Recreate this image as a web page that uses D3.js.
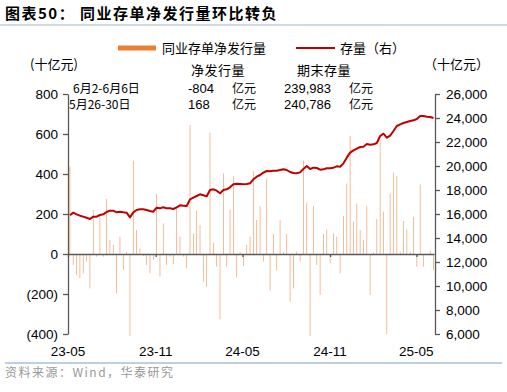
<!DOCTYPE html>
<html>
<head>
<meta charset="utf-8">
<script src="https://cdn.jsdelivr.net/npm/d3@7"></script>
<style>
  body { margin: 0; background: #fff; }
  text { font-family: "Liberation Sans", Arial, sans-serif; fill: #000; }
  .cjk { font-family: "Noto Sans CJK SC", sans-serif; }
</style>
</head>
<body>
<svg id="chart" width="507" height="392"></svg>
<script>
// weekly net issuance of NCDs (十亿元), weeks ending Friday from 2023-05-05
var netIssue = [
  437, -55, -105, -122, -97, -38, -172, 220, -13, 187,
  -13, 275, 70, 45, -197, 87, -80, 10, -410, 467,
  120, 28, -10, -55, -97, -30, 303, -113, 153, -55,
  -13, -50, 237, 87, -13, -72, 645, 103, 217, 145,
  -138, -163, 607, 57, -63, -327, 403, -63, 223, 390,
  -118, 10, -60, 45, 87, 415, 170, 240, -38, 378,
  -183, 100, -83, 170, 10, 100, -238, -172, 12, -38,
  467, 258, -410, 240, -55, -205, 100, 123, -47, 103,
  87, -97, 190, 353, 590, 162, 253, 120, 70, 240,
  -205, 8, 175, 570, 212, -400, 303, 407, 390, 12,
  165, 123, 10, 187, -63, 348, -63, -5, 17, -80
];

// outstanding stock (十亿元, right axis)
var stock = [
  15900, 16111, 15972, 15861, 15778, 15694, 15583, 15778, 15778, 15917,
  15972, 16167, 16278, 16278, 16139, 16194, 16139, 16111, 15722, 16139,
  16333, 16389, 16389, 16333, 16250, 16194, 16528, 16472, 16556, 16472,
  16472, 16417, 16556, 16722, 16694, 16667, 17222, 17361, 17500, 17639,
  17556, 17472, 18000, 18056, 17944, 17722, 18000, 18056, 18222, 18472,
  18528, 18500, 18472, 18500, 18560, 18889, 19111, 19250, 19444, 19583,
  19556, 19611, 19611, 19667, 19722, 19667, 19500, 19417, 19389, 19472,
  19750, 20000, 19750, 19861, 19833, 19694, 19722, 19806, 19806, 19861,
  19972, 19944, 20222, 20694, 21111, 21306, 21444, 21583, 21611, 21833,
  21778, 21806, 21917, 22500, 22694, 22361, 22528, 22917, 23333, 23472,
  23583, 23667, 23750, 23806, 23917, 24167, 24167, 24111, 24079, 23998
];

var leftTicks = [-400, -200, 0, 200, 400, 600, 800];
var rightTicks = [6000, 8000, 10000, 12000, 14000, 16000, 18000, 20000, 22000, 24000, 26000];
var xTickLabels = ['23-05', '23-11', '24-05', '24-11', '25-05'];

var tableHead = ['净发行量', '期末存量'];
var tableRows = [
  { period: '6月2-6月6日', net: '-804', stock: '239,983' },
  { period: '5月26-30日', net: '168', stock: '240,786' }
];

var weekStart = new Date(2023, 4, 5);
var dates = netIssue.map(function (d, i) { return d3.timeWeek.offset(weekStart, i); });
var xTickDates = xTickLabels.map(function (s) {
  return new Date(2000 + +s.slice(0, 2), +s.slice(3) - 1, 1);
});

var svg = d3.select('#chart');

var x = d3.scaleTime().domain([new Date(2023, 4, 1), new Date(2025, 5, 7)]).range([68, 434]);
var yL = d3.scaleLinear().domain([-400, 800]).range([334, 94]);
var yR = d3.scaleLinear().domain([6000, 26000]).range([334, 94]);

// title
svg.append('text').attr('class', 'cjk').attr('x', 5).attr('y', 19)
  .style('font-size', '15px').style('font-weight', 'bold').style('letter-spacing', '1.5px')
  .text('图表50：  同业存单净发行量环比转负');
svg.append('line').attr('x1', 0).attr('x2', 507).attr('y1', 25).attr('y2', 25)
  .attr('stroke', '#9fb4cc').attr('stroke-width', 1);

// legend
svg.append('rect').attr('x', 118).attr('y', 45.5).attr('width', 38).attr('height', 5).attr('fill', '#ED7D31');
svg.append('text').attr('class', 'cjk').attr('x', 162).attr('y', 53)
  .style('font-size', '13px').text('同业存单净发行量');
svg.append('line').attr('x1', 296).attr('x2', 335).attr('y1', 48).attr('y2', 48)
  .attr('stroke', '#C00000').attr('stroke-width', 2);
svg.append('text').attr('class', 'cjk').attr('x', 340).attr('y', 53)
  .style('font-size', '13px').text('存量（右）');

// units
svg.append('text').attr('class', 'cjk').attr('x', 30).attr('y', 69)
  .style('font-size', '13px').text('(十亿元)');
svg.append('text').attr('class', 'cjk').attr('x', 424).attr('y', 69)
  .style('font-size', '13px').text('（十亿元）');

// bars: hairline-thin, so they come out pale like the source
svg.append('g').selectAll('rect').data(netIssue).enter().append('rect')
  .attr('x', function (d, i) { return x(dates[i]) - 0.35; })
  .attr('y', function (d) { return d >= 0 ? yL(d) : yL(0); })
  .attr('width', 0.7)
  .attr('height', function (d) { return Math.abs(yL(d) - yL(0)); })
  .attr('fill', '#F2A070');

// stock line
var line = d3.line()
  .x(function (d, i) { return x(dates[i]); })
  .y(function (d) { return yR(d); });
svg.append('path').datum(stock).attr('d', line)
  .attr('fill', 'none').attr('stroke', '#C00000').attr('stroke-width', 2)
  .attr('stroke-linejoin', 'round');

// axes
var axisColor = '#595959';
var gL = svg.append('g').attr('transform', 'translate(68,0)')
  .call(d3.axisLeft(yL).tickValues(leftTicks).tickSize(5).tickSizeOuter(0)
    .tickFormat(function (d) { return d < 0 ? '(' + (-d) + ')' : d; }));
var gR = svg.append('g').attr('transform', 'translate(435,0)')
  .call(d3.axisRight(yR).tickValues(rightTicks).tickSize(5).tickSizeOuter(0)
    .tickFormat(d3.format(',')));
var gX = svg.append('g').attr('transform', 'translate(0,' + yL(0) + ')')
  .call(d3.axisBottom(x).tickValues(xTickDates).tickSize(3).tickSizeOuter(0).tickFormat(''));

[gL, gR, gX].forEach(function (g) {
  g.selectAll('path, line').attr('stroke', axisColor).attr('stroke-width', 1.3);
  g.selectAll('text').style('font-size', '13.5px').attr('fill', '#000')
    .style('font-family', '"Liberation Sans", Arial, sans-serif');
});
gL.selectAll('text').attr('x', -10);
gR.selectAll('text').attr('x', 11);

svg.append('g').selectAll('text').data(xTickLabels).enter().append('text')
  .attr('x', function (d, i) { return x(xTickDates[i]); })
  .attr('y', 356)
  .attr('text-anchor', 'middle')
  .style('font-size', '13.5px')
  .text(function (d) { return d; });

// period table
svg.selectAll('.head').data(tableHead).enter().append('text')
  .attr('class', 'cjk head')
  .attr('x', function (d, i) { return i === 0 ? 191 : 297; })
  .attr('y', 75)
  .style('font-size', '13px').style('letter-spacing', '0.5px')
  .text(function (d) { return d; });

var rows = svg.selectAll('.row').data(tableRows).enter().append('g')
  .attr('transform', function (d, i) { return 'translate(0,' + (93 + i * 15.5) + ')'; });
rows.append('text').attr('class', 'cjk')
  .attr('x', function (d, i) { return i === 0 ? 73 : 69; })
  .style('font-size', '12px')
  .text(function (d) { return d.period; });
rows.append('text').attr('x', 188).style('font-size', '13px')
  .text(function (d) { return d.net; });
rows.append('text').attr('class', 'cjk').attr('x', 232).style('font-size', '12px').text('亿元');
rows.append('text').attr('x', 284).style('font-size', '13px')
  .text(function (d) { return d.stock; });
rows.append('text').attr('class', 'cjk').attr('x', 349).style('font-size', '12px').text('亿元');

// source
svg.append('line').attr('x1', 5).attr('x2', 502).attr('y1', 363).attr('y2', 363)
  .attr('stroke', '#7f9fc2').attr('stroke-width', 1);
svg.append('text').attr('class', 'cjk').attr('x', 5).attr('y', 377)
  .style('font-size', '12px').style('letter-spacing', '1.5px')
  .style('fill', '#999')
  .text('资料来源：Wind，华泰研究');
</script>
</body>
</html>
